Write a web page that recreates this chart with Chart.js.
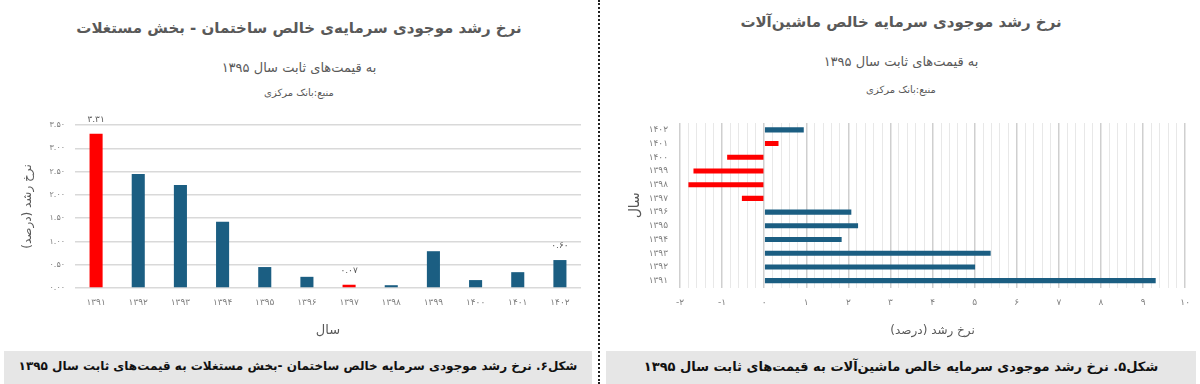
<!DOCTYPE html>
<html lang="fa">
<head>
<meta charset="utf-8">
<script src="https://cdn.jsdelivr.net/npm/chart.js@4.4.0/dist/chart.umd.min.js"></script>
<style>
  html, body { margin: 0; padding: 0; background: #fff; }
  body { width: 1200px; height: 384px; position: relative; overflow: hidden; font-family: "DejaVu Sans", sans-serif; }
  .txt { position: absolute; text-align: center; color: #595959; direction: rtl; white-space: nowrap; line-height: 1; }
  .title { font-weight: bold; font-size: 15px; }
  .sub { font-size: 13px; }
  .src { font-size: 10px; }
  .caption { position: absolute; top: 351px; height: 33px; background: #e6e6e6; color: #111; font-weight: bold;
             font-size: 13px; direction: rtl; text-align: center; line-height: 31px; white-space: nowrap; overflow: hidden; }
  .sep { position: absolute; left: 598px; top: 0; width: 0; height: 384px; border-left: 2px dotted #222; }
  canvas { position: absolute; top: 100px; }
</style>
</head>
<body>
<div class="txt title" style="left:0;width:598px;top:21px;">نرخ رشد موجودی سرمایه‌ی خالص ساختمان - بخش مستغلات</div>
<div class="txt sub" style="left:0;width:598px;top:61px;">به قیمت‌های ثابت سال ۱۳۹۵</div>
<div class="txt src" style="left:0;width:598px;top:88px;">منبع:بانک مرکزی</div>

<div class="txt title" style="left:602px;width:598px;top:15px;">نرخ رشد موجودی سرمایه خالص ماشین‌آلات</div>
<div class="txt sub" style="left:602px;width:598px;top:55px;">به قیمت‌های ثابت سال ۱۳۹۵</div>
<div class="txt src" style="left:602px;width:598px;top:85px;">منبع:بانک مرکزی</div>

<div class="sep"></div>

<canvas id="leftChart" width="598" height="245" style="left:0;"></canvas>
<canvas id="rightChart" width="600" height="245" style="left:600px;"></canvas>

<div class="caption" style="left:4px;width:588px;font-size:12px;">شکل۶. نرخ رشد موجودی سرمایه خالص ساختمان -بخش مستغلات به قیمت‌های ثابت سال ۱۳۹۵</div>
<div class="caption" style="left:606px;width:590px;">شکل۵. نرخ رشد موجودی سرمایه خالص ماشین‌آلات به قیمت‌های ثابت سال ۱۳۹۵</div>

<script>
// building sector (left chart)
const leftYears = ['۱۳۹۱', '۱۳۹۲', '۱۳۹۳', '۱۳۹۴', '۱۳۹۵', '۱۳۹۶', '۱۳۹۷', '۱۳۹۸', '۱۳۹۹', '۱۴۰۰', '۱۴۰۱', '۱۴۰۲'];
const leftValues = [3.31, 2.45, 2.21, 1.42, 0.45, 0.24, 0.07, 0.06, 0.79, 0.17, 0.34, 0.60];
const leftColors = ['#ff0000', '#1b5e82', '#1b5e82', '#1b5e82', '#1b5e82', '#1b5e82', '#ff0000', '#1b5e82', '#1b5e82', '#1b5e82', '#1b5e82', '#1b5e82'];
const leftLabelled = [0, 6, 11];

// machinery (right chart), top to bottom
const rightYears = ['۱۴۰۲', '۱۴۰۱', '۱۴۰۰', '۱۳۹۹', '۱۳۹۸', '۱۳۹۷', '۱۳۹۶', '۱۳۹۵', '۱۳۹۴', '۱۳۹۳', '۱۳۹۲', '۱۳۹۱'];
const rightValues = [0.94, 0.34, -0.88, -1.68, -1.80, -0.53, 2.07, 2.23, 1.84, 5.38, 5.01, 9.30];
const rightColors = ['#1b5e82', '#ff0000', '#ff0000', '#ff0000', '#ff0000', '#ff0000', '#1b5e82', '#1b5e82', '#1b5e82', '#1b5e82', '#1b5e82', '#1b5e82'];

const FONT = '"DejaVu Sans", sans-serif';

function toFa(s) {
    return String(s).replace(/[0-9]/g, d => '۰۱۲۳۴۵۶۷۸۹'[d]);
}

function isWhole(v) {
    return Math.abs(v - Math.round(v)) < 1e-6;
}

const barLabels = {
    id: 'barLabels',
    afterDatasetsDraw(chart) {
        const ctx = chart.ctx;
        const meta = chart.getDatasetMeta(0);
        ctx.save();
        ctx.font = '9px ' + FONT;
        ctx.fillStyle = '#595959';
        ctx.textAlign = 'center';
        ctx.textBaseline = 'bottom';
        leftLabelled.forEach(function (i) {
            const bar = meta.data[i];
            ctx.fillText(toFa(leftValues[i].toFixed(2)), bar.x, bar.y - 10);
        });
        ctx.restore();
    }
};

new Chart(document.getElementById('leftChart'), {
    type: 'bar',
    data: {
        labels: leftYears,
        datasets: [{
            data: leftValues,
            backgroundColor: leftColors,
            barPercentage: 0.31,
            categoryPercentage: 1
        }]
    },
    plugins: [barLabels],
    options: {
        responsive: false,
        animation: false,
        layout: { padding: { left: 17, right: 17, top: 25, bottom: 3 } },
        plugins: { legend: { display: false }, tooltip: { enabled: false } },
        scales: {
            x: {
                grid: { display: false, drawTicks: false },
                border: { display: false },
                ticks: { color: '#808080', font: { family: FONT, size: 9 }, padding: 9, maxRotation: 0, autoSkip: false },
                title: { display: true, text: 'سال', color: '#595959', font: { family: FONT, size: 13 }, padding: 4 },
                afterFit: function (s) { s.height = 54; }
            },
            y: {
                min: 0,
                max: 3.5,
                ticks: {
                    stepSize: 0.5,
                    color: '#808080',
                    font: { family: FONT, size: 8 },
                    padding: 10,
                    callback: v => toFa(v.toFixed(2))
                },
                grid: { color: '#d9d9d9', lineWidth: 1.5, drawTicks: false },
                border: { display: false },
                title: { display: true, text: 'نرخ رشد (درصد)', color: '#595959', font: { family: FONT, size: 12 }, padding: 4 },
                afterFit: function (s) { s.width = 58; }
            }
        }
    }
});

new Chart(document.getElementById('rightChart'), {
    type: 'bar',
    data: {
        labels: rightYears,
        datasets: [{
            data: rightValues,
            backgroundColor: rightColors,
            barPercentage: 0.37,
            categoryPercentage: 1
        }]
    },
    options: {
        indexAxis: 'y',
        responsive: false,
        animation: false,
        layout: { padding: { left: 23, right: 10, top: 23, bottom: 3 } },
        plugins: { legend: { display: false }, tooltip: { enabled: false } },
        scales: {
            x: {
                min: -2,
                max: 10,
                ticks: {
                    stepSize: 0.2,
                    autoSkip: false,
                    maxRotation: 0,
                    color: '#808080',
                    font: { family: FONT, size: 9 },
                    padding: 10,
                    callback: v => isWhole(v) ? toFa(Math.round(v)) : ''
                },
                grid: {
                    drawTicks: false,
                    color: c => isWhole(c.tick.value) ? '#cfcfcf' : '#e8e8e8',
                    lineWidth: c => isWhole(c.tick.value) ? 1.5 : 1
                },
                border: { display: false },
                title: { display: true, text: 'نرخ رشد (درصد)', color: '#595959', font: { family: FONT, size: 12 }, padding: 4 },
                afterFit: function (s) { s.height = 54.5; }
            },
            y: {
                grid: { display: false, drawTicks: false },
                border: { display: false },
                ticks: { color: '#808080', font: { family: FONT, size: 9 }, padding: 12, autoSkip: false },
                title: { display: true, text: 'سال', color: '#595959', font: { family: FONT, size: 14 }, padding: 4 },
                afterFit: function (s) { s.width = 57; }
            }
        }
    }
});
</script>
</body>
</html>
